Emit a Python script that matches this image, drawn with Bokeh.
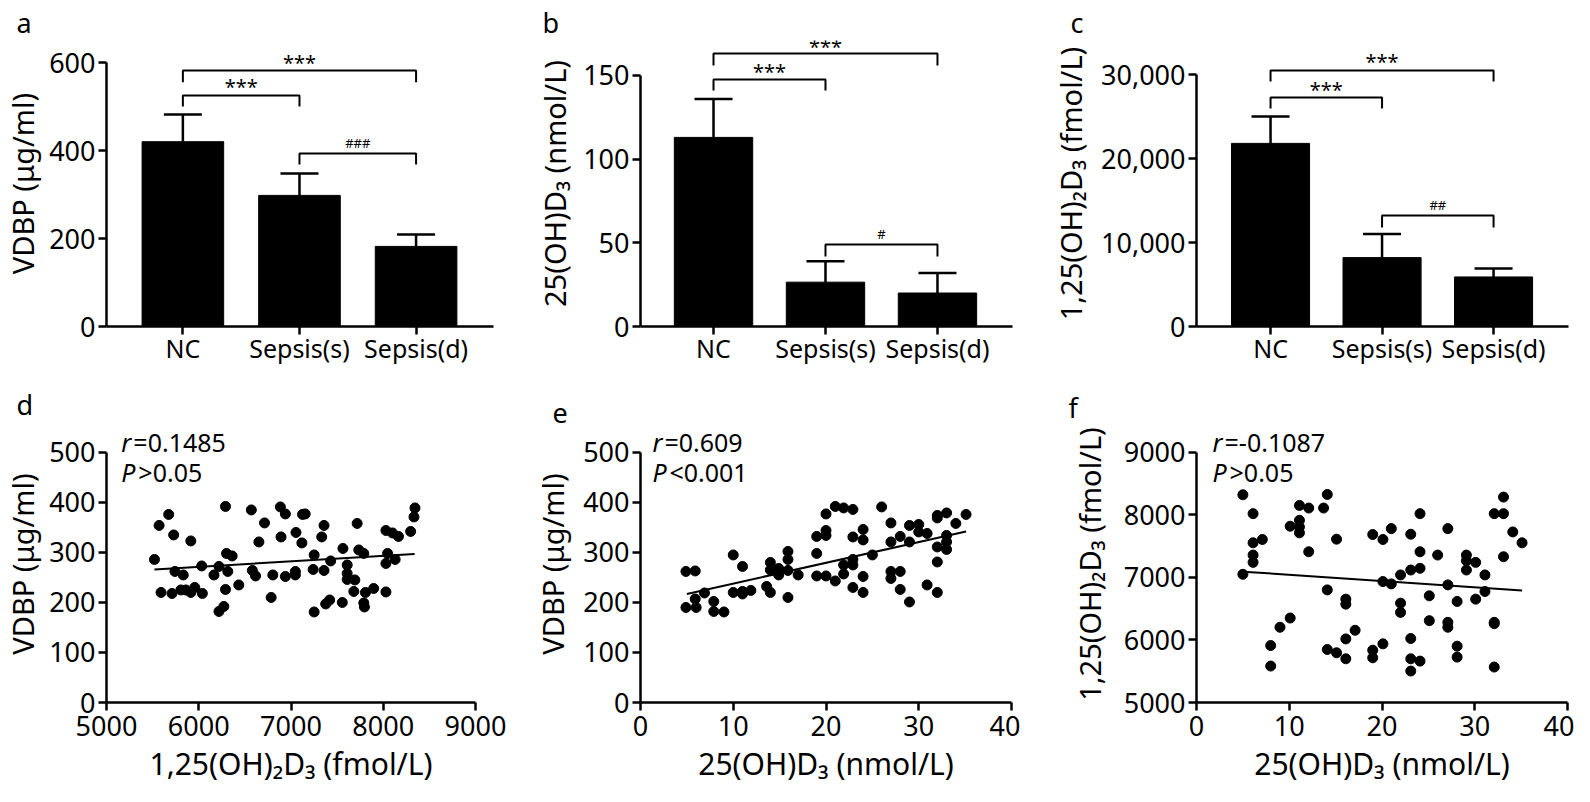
from bokeh.plotting import figure
from bokeh.models import (Range1d, FixedTicker, NumeralTickFormatter, Label,
                          Whisker, ColumnDataSource, TeeHead)
from bokeh.layouts import column, row
from bokeh.embed import file_html
from bokeh.resources import INLINE
from bokeh.core.properties import value

FONT = "Noto Sans"

# ---------------- data ----------------
groups = ["NC", "Sepsis(s)", "Sepsis(d)"]
vdbp_mean = [420, 298, 182]
vdbp_sd = [62, 50, 27]
ohd_mean = [113, 26.5, 20]
ohd_sd = [23, 12.5, 12]
dihyd_mean = [21800, 8200, 5900]
dihyd_sd = [3200, 2800, 1000]

# panel d: 1,25(OH)2D3 (x) vs VDBP (y)
d_x = [5520, 5570, 5674, 5591, 5710, 5728, 5742, 5832, 5806, 5860, 5914, 5914, 5957, 6032, 6039,
       6165, 6219, 6219, 6272, 6290, 6290, 6301, 6315, 6362, 6434, 6570, 6581, 6616, 6652, 6713,
       6785, 6803, 6885, 6892, 6939, 6939, 7047, 7047, 7054, 7118, 7125, 7154, 7251, 7240, 7251,
       7333, 7358, 7358, 7376, 7419, 7430, 7556, 7563, 7609, 7609, 7609, 7681, 7692, 7717, 7735,
       7789, 7789, 7796, 7807, 7896, 8029, 8047, 8029, 8029, 8100, 8129, 8165, 8297, 8333, 8344]
d_y = [286, 354, 376, 220, 218, 335, 262, 255, 225, 225, 323, 220, 230, 273, 218,
       255, 272, 182, 192, 392, 226, 298, 262, 293, 235, 385, 264, 253, 321, 359,
       210, 255, 391, 331, 377, 252, 262, 255, 340, 319, 376, 377, 295, 266, 181,
       331, 354, 264, 197, 205, 283, 200, 308, 275, 258, 246, 222, 245, 358, 305,
       298, 199, 191, 220, 228, 344, 298, 278, 221, 339, 286, 332, 342, 371, 389]
d_fit_x = [5520, 8340]
d_fit_y = [266, 297]

# panel e: 25(OH)D3 (x) vs VDBP (y)
e_x = [4.9, 5.9, 4.9, 5.9, 6.0, 6.9, 7.9, 7.9, 9.0, 10.0, 10.0, 11.0, 11.0, 11.0, 11.9,
       13.6, 14.0, 14.0, 14.0, 14.9, 14.9, 15.9, 15.9, 15.9, 15.9, 17.0, 19.0, 19.0, 19.0, 20.0,
       20.0, 20.0, 20.0, 21.0, 21.0, 21.9, 21.9, 21.9, 22.9, 22.9, 22.9, 22.9, 22.9, 24.0, 24.0,
       24.0, 24.0, 25.0, 26.0, 27.0, 27.0, 27.0, 27.0, 28.0, 28.0, 28.0, 29.0, 29.0, 29.0, 30.0,
       30.0, 30.9, 30.9, 32.0, 32.0, 32.0, 32.0, 32.0, 33.0, 33.0, 33.0, 33.0, 34.0, 35.1]
e_y = [262, 263, 190, 207, 190, 219, 202, 182, 181, 295, 220, 272, 217, 222, 224,
       232, 280, 220, 265, 268, 255, 302, 286, 264, 210, 255, 332, 298, 253, 377,
       344, 334, 253, 392, 243, 389, 275, 257, 386, 331, 286, 275, 230, 346, 325,
       252, 220, 295, 391, 359, 321, 262, 248, 332, 262, 226, 354, 321, 201, 356,
       341, 338, 235, 374, 369, 311, 281, 220, 379, 334, 321, 306, 358, 376]
e_fit_x = [5.0, 35.1]
e_fit_y = [217, 342]

# panel f: 25(OH)D3 (x) vs 1,25(OH)2D3 (y)
f_x = [5.0, 5.0, 6.1, 6.1, 6.1, 6.1, 7.1, 8.0, 8.0, 9.0, 10.1, 10.1, 11.1, 11.1, 11.1,
       11.1, 12.1, 12.1, 13.7, 14.1, 14.1, 14.1, 15.1, 15.1, 16.1, 16.1, 16.1, 16.1, 17.1, 19.0,
       19.0, 19.0, 20.1, 20.1, 20.1, 21.0, 21.0, 22.0, 22.0, 22.0, 23.1, 23.1, 23.1, 23.1, 23.1,
       24.1, 24.1, 24.1, 24.1, 25.1, 25.1, 26.0, 27.1, 27.1, 27.1, 27.1, 28.1, 28.1, 28.1, 29.1,
       29.1, 29.1, 30.1, 30.1, 31.1, 31.1, 32.1, 32.1, 32.1, 32.1, 33.1, 33.1, 33.1, 34.1, 35.1]
f_y = [8322, 7050, 8020, 7554, 7358, 7241, 7607, 5911, 5583, 6203, 6351, 7819, 8152, 7914, 7808,
       7713, 8110, 7411, 8110, 8327, 6801, 5848, 7612, 5795, 6653, 6573, 6017, 5699, 6155, 7686,
       5837, 5715, 7607, 6934, 5938, 7781, 6897, 7040, 6589, 6441, 7691, 7119, 6023, 5699, 5503,
       8020, 7411, 7146, 5662, 6706, 6309, 7358, 7781, 6881, 6282, 6203, 6616, 5901, 5726, 7358,
       7268, 7119, 7241, 6653, 7040, 6775, 8020, 6282, 6261, 5567, 8285, 8020, 7331, 7728, 7554]
f_fit_x = [5.0, 35.1]
f_fit_y = [7093, 6791]

bar_ticks = [1, 2, 3]
TICK_FS = "27px"


def style_axes(p, xsize, xstand):
    for ax in (p.xaxis[0], p.yaxis[0]):
        ax.axis_line_width = 2.5
        ax.axis_line_color = "black"
        ax.major_tick_line_width = 2.5
        ax.major_tick_line_color = "black"
        ax.major_tick_in = 0
        ax.major_tick_out = 8
        ax.minor_tick_line_color = None
        ax.major_label_text_font = FONT
        ax.major_label_text_font_size = TICK_FS
        ax.major_label_text_color = "black"
        ax.major_label_standoff = 3
        ax.axis_label_text_font = FONT
        ax.axis_label_text_font_size = "29px"
        ax.axis_label_text_font_style = "normal"
        ax.axis_label_text_color = "black"
    p.xaxis[0].major_label_text_font_size = xsize
    p.xaxis[0].major_label_standoff = xstand


def base_fig(w, h, bl, br, bt, bb, xr, yr, letter, loff, lstand):
    p = figure(width=w, height=h, x_range=Range1d(*xr), y_range=Range1d(*yr),
               output_backend="svg", toolbar_location=None,
               min_border_left=bl, min_border_right=br,
               min_border_top=bt, min_border_bottom=bb)
    p.outline_line_color = None
    p.xgrid.visible = False
    p.ygrid.visible = False
    p.background_fill_color = "white"
    p.border_fill_color = "white"
    # panel letter as the figure title, shifted left of the frame
    p.title.text = letter
    p.title.align = "left"
    p.title.offset = loff
    p.title.standoff = lstand
    p.title.text_font = FONT
    p.title.text_font_size = "27px"
    p.title.text_font_style = "normal"
    p.title.text_color = "black"
    return p


def bar_panel(w, h, bl, br, bt, bb, xr, yr, ybound, yticks, means, sds, ylabel,
              brackets, ylab_standoff, letter, loff, fmt=None):
    p = base_fig(w, h, bl, br, bt, bb, xr, yr, letter, loff, 0)
    src = ColumnDataSource(dict(x=bar_ticks, top=means,
                                upper=[m + s for m, s in zip(means, sds)]))
    p.vbar(x="x", top="top", width=0.7, source=src, fill_color="black",
           line_color="black", line_width=1)
    wk = Whisker(base="x", lower="top", upper="upper", source=src, dimension="height",
                 line_color="black", line_width=2.5,
                 upper_head=TeeHead(size=38, line_color="black", line_width=2.5),
                 lower_head=None, level="glyph")
    p.add_layout(wk)
    xs, ys = [], []
    for (i, j, ybar, ytip, lab, ylab, fs) in brackets:
        xs.append([i, i, j, j])
        ys.append([ytip, ybar, ybar, ytip])
        p.text(x=[(i + j) / 2], y=[ylab], text=[lab], text_align="center",
               text_baseline="middle", text_font=value(FONT),
               text_font_size=value(fs), text_color="black")
    p.multi_line(xs=xs, ys=ys, line_color="black", line_width=2)
    style_axes(p, "25px", -4)
    p.xaxis[0].ticker = FixedTicker(ticks=bar_ticks)
    p.xaxis[0].major_label_overrides = {t: g for t, g in zip(bar_ticks, groups)}
    p.yaxis[0].ticker = FixedTicker(ticks=yticks)
    p.yaxis[0].bounds = ybound
    p.yaxis[0].axis_label = ylabel
    p.yaxis[0].axis_label_standoff = ylab_standoff
    if fmt:
        p.yaxis[0].formatter = fmt
    return p


def scatter_panel(w, h, bl, br, bt, bb, xr, yr, ybound, xticks, yticks, x, y, fx, fy,
                  xlabel, ylabel, rtxt, ptxt, tx, ry, py, ylab_standoff,
                  letter, loff, lstand):
    p = base_fig(w, h, bl, br, bt, bb, xr, yr, letter, loff, lstand)
    p.scatter(x=x, y=y, size=10, color="black")
    p.line(x=fx, y=fy, line_color="black", line_width=2)
    style_axes(p, TICK_FS, 5)
    p.xaxis[0].ticker = FixedTicker(ticks=xticks)
    p.yaxis[0].ticker = FixedTicker(ticks=yticks)
    p.yaxis[0].bounds = ybound
    p.xaxis[0].axis_label = xlabel
    p.yaxis[0].axis_label = ylabel
    p.xaxis[0].axis_label_standoff = 4
    p.xaxis[0].axis_label_text_font_size = "30px"
    p.yaxis[0].axis_label_standoff = ylab_standoff
    for (it, rest, yy, off) in (("r", rtxt, ry, 12), ("P", ptxt, py, 17)):
        p.add_layout(Label(x=tx, y=yy, text=it, text_font=FONT, text_font_size="25px",
                           text_font_style="italic", text_baseline="middle",
                           text_color="black"))
        p.add_layout(Label(x=tx, y=yy, x_offset=off, text=rest, text_font=FONT,
                           text_font_size="25px", text_baseline="middle",
                           text_color="black"))
    return p


# ---------------- top row (frames: y 40..326) ----------------
pa = bar_panel(530, 380, 103, 37, 40, 54, (0.345, 3.664), (0, 650.0), (0, 600),
               [0, 200, 400, 600], vdbp_mean, vdbp_sd, "VDBP (μg/ml)",
               [(1, 3, 582, 555, "***", 600, "20px"),
                (1, 2, 525, 500, "***", 545, "20px"),
                (2, 3, 393, 368, "###", 416, "13px")], 4, "a", -90)

pb = bar_panel(490, 380, 110, 8, 40, 54, (0.348, 3.670), (0, 170.9), (0, 150),
               [0, 50, 100, 150], ohd_mean, ohd_sd, "25(OH)D₃ (nmol/L)",
               [(1, 3, 163.1, 156, "***", 167.3, "20px"),
                (1, 2, 147.6, 141, "***", 152.4, "20px"),
                (2, 3, 49, 41.8, "#", 55.0, "13px")], 6, "b", -98)

pc = bar_panel(554, 380, 176, 6, 40, 54, (0.336, 3.672), (0, 34048), (0, 30000),
               [0, 10000, 20000, 30000], dihyd_mean, dihyd_sd, "1,25(OH)₂D₃ (fmol/L)",
               [(1, 3, 30476, 29167, "***", 31548, "20px"),
                (1, 2, 27262, 25952, "***", 28214, "20px"),
                (2, 3, 13214, 11786, "##", 14405, "13px")], 8, "c", -126,
               fmt=NumeralTickFormatter(format="0,0"))

# ---------------- bottom row (frames: y 425..703) ----------------
pd_ = scatter_panel(530, 406, 102, 55, 45, 83, (5000, 9000), (0, 553.8), (0, 500),
                    [5000, 6000, 7000, 8000, 9000], [0, 100, 200, 300, 400, 500],
                    d_x, d_y, d_fit_x, d_fit_y, "1,25(OH)₂D₃ (fmol/L)", "VDBP (μg/ml)",
                    "=0.1485", ">0.05", 5161, 519.9, 460.2, 4, "d", -90, 6)

pe = scatter_panel(490, 406, 110, 9, 45, 83, (0, 40), (0, 553.8), (0, 500),
                   [0, 10, 20, 30, 40], [0, 100, 200, 300, 400, 500],
                   e_x, e_y, e_fit_x, e_fit_y, "25(OH)D₃ (nmol/L)", "VDBP (μg/ml)",
                   "=0.609", "<0.001", 1.29, 519.9, 460.2, 8, "e", -88, 6)

pf = scatter_panel(554, 406, 176, 7, 45, 83, (0, 40), (5000, 9430), (5000, 9000),
                   [0, 10, 20, 30, 40], [5000, 6000, 7000, 8000, 9000],
                   f_x, f_y, f_fit_x, f_fit_y, "25(OH)D₃ (nmol/L)", "1,25(OH)₂D₃ (fmol/L)",
                   "=-0.1087", ">0.05", 1.73, 9159, 8681, 12, "f", -128, 0)

layout = column(row(pa, pb, pc), row(pd_, pe, pf))
open("out.html", "w").write(file_html(layout, INLINE))
